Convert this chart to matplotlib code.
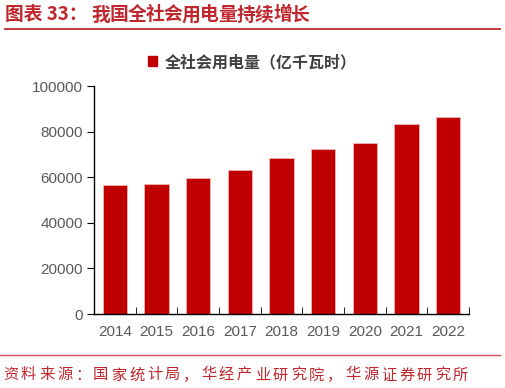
import matplotlib
matplotlib.use("Agg")
import matplotlib.pyplot as plt
from matplotlib.lines import Line2D
from matplotlib.patches import Patch

plt.rcParams["font.family"] = ["Noto Sans CJK SC", "DejaVu Sans"]

years = ["2014", "2015", "2016", "2017", "2018", "2019", "2020", "2021", "2022"]
consumption = [56384, 56933, 59747, 63077, 68449, 72255, 75110, 83128, 86372]
yticks = [0, 20000, 40000, 60000, 80000, 100000]

TITLE_PREFIX = "图表 33："
TITLE = "我国全社会用电量持续增长"
SERIES = "全社会用电量（亿千瓦时）"
SOURCE = "资料来源：国家统计局，华经产业研究院，华源证券研究所"

RED = "#C0272D"
BAR = "#C00000"
GREY = "#595959"

W, H = 506, 388
fig = plt.figure(figsize=(W / 100, H / 100), dpi=100)

# axes in pixel coordinates: left 94, right 469, top 86, bottom 314
ax = fig.add_axes([94 / W, 1 - 314 / H, (469 - 94) / W, (314 - 86) / H])
x = list(range(len(years)))
ax.bar(x, consumption, width=0.58, color=BAR, edgecolor="#F2B8B8", linewidth=0.6)
ax.set_xlim(-0.5, len(years) - 0.5)
ax.set_ylim(0, 100000)
ax.set_yticks(yticks)
ax.set_yticklabels([str(v) for v in yticks], fontsize=11, color=GREY, family="Liberation Sans")
ax.set_xticks(x)
ax.set_xticklabels(years, fontsize=11, color=GREY, family="Liberation Sans")
ax.tick_params(axis="x", length=0, pad=8)
ax.set_xticks([i + 0.5 for i in x], minor=True)
ax.tick_params(axis="x", which="minor", direction="in", length=5, color="black")
ax.tick_params(axis="y", direction="out", length=5, color="black", pad=3)
for side in ("top", "right"):
    ax.spines[side].set_visible(False)
for side in ("left", "bottom"):
    ax.spines[side].set_color("black")
    ax.spines[side].set_linewidth(1.0)

fig.legend(handles=[Patch(color=BAR)], labels=[SERIES], loc="center",
           bbox_to_anchor=(252 / W, 1 - 62 / H), frameon=False, handlelength=0.6,
           handleheight=0.6, handletextpad=0.45, prop={"size": 11.5, "weight": "bold"},
           labelcolor="#404040")

# title: prefix, then the wide-spaced heading one character at a time
fig.text(5 / W, 1 - 15 / H, TITLE_PREFIX, color=RED, fontsize=13.5, fontweight="bold", va="center", ha="left")
for i, ch in enumerate(TITLE):
    fig.text((91 + i * 18.2) / W, 1 - 15 / H, ch, color=RED, fontsize=13.5, fontweight="bold",
             va="center", ha="left")
fig.add_artist(Line2D([5 / W, 500 / W], [1 - 29 / H, 1 - 29 / H], color=RED, linewidth=1.3))
fig.add_artist(Line2D([0, 500 / W], [1 - 355 / H, 1 - 355 / H], color=RED, linewidth=1.0, alpha=0.8))

# source line is set with wide letter spacing, one character at a time
for i, ch in enumerate(SOURCE):
    fig.text((3 + i * 18.0) / W, 1 - 375 / H, ch, color=RED, fontsize=11, va="center", ha="left")

fig.savefig("out.png", dpi=100)
